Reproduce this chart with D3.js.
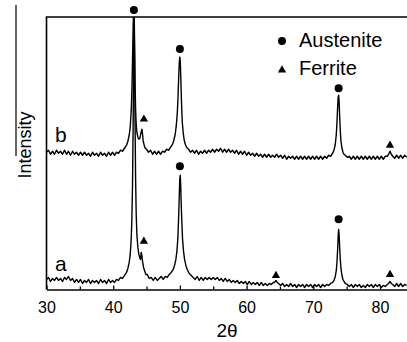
<!DOCTYPE html>
<html><head><meta charset="utf-8">
<script src="https://cdn.jsdelivr.net/npm/d3@7"></script>
<style>body{margin:0;background:#fff}svg{display:block}text{font-family:Arial,"Liberation Sans",sans-serif;fill:#000}</style>
</head><body><svg id="c" width="407" height="342"></svg>
<script>
// 2θ (deg), intensity (a.u.) for sample a
const seriesA = [
[30.0,10],[30.3,12],[30.6,8],[30.9,11],[31.2,9],[31.5,12],[31.8,9],[32.1,11],[32.4,8],[32.7,12],[33.0,10],[33.3,13],[33.6,9],[33.9,11],[34.2,7],[34.5,10],[34.8,7],[35.1,10],[35.4,6],[35.7,9],[36.0,7],[36.3,10],[36.6,6],[36.9,9],[37.2,7],[37.5,9],[37.8,6],[38.1,10],[38.4,7],[38.7,9],[39.0,6],[39.3,10],[39.6,7],[39.9,9],[40.2,7],[40.5,10],[40.8,9],[41.1,12],[41.4,11],[41.7,14],[42.0,17],[42.2,21],[42.4,27],[42.55,35],[42.7,50],[42.8,70],[42.9,105],[43.0,170],[43.08,250],[43.13,272],[43.2,235],[43.28,165],[43.36,110],[43.45,75],[43.55,55],[43.7,42],[43.85,35],[44.0,31],[44.1,30],[44.2,37],[44.3,34],[44.4,28],[44.55,22],[44.7,19],[44.9,15],[45.1,15],[45.4,11],[45.7,12],[46.0,9],[46.3,12],[46.6,9],[46.9,11],[47.2,13],[47.5,10],[47.8,13],[48.1,12],[48.4,15],[48.7,17],[49.0,20],[49.2,24],[49.4,30],[49.55,38],[49.7,52],[49.8,70],[49.9,92],[49.98,110],[50.05,114],[50.12,104],[50.2,85],[50.3,66],[50.4,50],[50.55,38],[50.7,30],[50.9,24],[51.1,20],[51.4,16],[51.7,14],[52.0,12],[52.3,10],[52.6,13],[52.9,9],[53.2,12],[53.5,9],[53.8,12],[54.1,10],[54.4,12],[54.7,10],[55.0,12],[55.3,10],[55.6,12],[55.9,9],[56.2,11],[56.5,8],[56.8,11],[57.1,8],[57.4,10],[57.7,7],[58.0,9],[58.3,7],[58.6,9],[58.9,6],[59.2,8],[59.5,6],[59.8,8],[60.1,5],[60.4,8],[60.7,5],[61.0,7],[61.3,5],[61.6,7],[61.9,4],[62.2,7],[62.5,4],[62.8,6],[63.1,4],[63.4,6],[63.7,5],[64.0,7],[64.2,7],[64.4,9],[64.6,7],[64.8,6],[65.1,4],[65.4,6],[65.7,3],[66.0,5],[66.3,3],[66.6,6],[66.9,3],[67.2,5],[67.5,2],[67.8,5],[68.1,3],[68.4,5],[68.7,2],[69.0,5],[69.3,3],[69.6,5],[69.9,2],[70.2,5],[70.5,3],[70.8,5],[71.1,2],[71.4,5],[71.7,3],[72.0,5],[72.3,4],[72.6,6],[72.9,7],[73.1,9],[73.3,13],[73.45,19],[73.55,27],[73.65,40],[73.73,53],[73.8,60],[73.87,55],[73.95,43],[74.05,30],[74.15,21],[74.3,14],[74.45,10],[74.6,8],[74.8,6],[75.1,5],[75.4,3],[75.7,5],[76.0,2],[76.3,5],[76.6,3],[76.9,5],[77.2,2],[77.5,4],[77.8,2],[78.1,5],[78.4,3],[78.7,5],[79.0,2],[79.3,5],[79.6,3],[79.9,5],[80.2,2],[80.5,4],[80.8,3],[81.1,5],[81.3,6],[81.5,8],[81.7,6],[81.9,5],[82.2,3],[82.5,6],[82.8,3],[83.1,6],[83.4,3],[83.7,5],[84.0,4]
];
// 2θ (deg), intensity (a.u.) for sample b (offset upward)
const seriesB = [
[30.0,137],[30.3,139],[30.6,135],[30.9,138],[31.2,135],[31.5,139],[31.8,136],[32.1,138],[32.4,135],[32.7,139],[33.0,135],[33.3,138],[33.6,134],[33.9,138],[34.2,135],[34.5,137],[34.8,134],[35.1,137],[35.4,134],[35.7,137],[36.0,134],[36.3,136],[36.6,133],[36.9,137],[37.2,134],[37.5,136],[37.8,133],[38.1,137],[38.4,134],[38.7,136],[39.0,133],[39.3,137],[39.6,134],[39.9,137],[40.2,134],[40.5,137],[40.8,136],[41.1,139],[41.4,138],[41.7,141],[42.0,144],[42.2,148],[42.4,154],[42.55,162],[42.7,178],[42.8,198],[42.9,230],[43.0,265],[43.06,280],[43.13,285],[43.2,250],[43.28,205],[43.36,180],[43.45,165],[43.55,157],[43.7,152],[43.85,150],[44.0,151],[44.15,156],[44.3,160],[44.4,155],[44.5,148],[44.65,144],[44.8,141],[45.0,140],[45.3,137],[45.6,139],[45.9,135],[46.2,138],[46.5,135],[46.8,138],[47.1,135],[47.4,138],[47.7,137],[48.0,140],[48.3,139],[48.6,142],[48.9,145],[49.1,149],[49.3,155],[49.45,163],[49.6,175],[49.72,192],[49.82,212],[49.92,228],[50.0,232],[50.07,226],[50.15,208],[50.25,185],[50.35,168],[50.5,156],[50.65,149],[50.8,145],[51.0,142],[51.3,140],[51.6,137],[51.9,139],[52.2,136],[52.5,139],[52.8,135],[53.1,138],[53.4,136],[53.7,139],[54.0,136],[54.3,139],[54.6,137],[54.9,140],[55.2,137],[55.5,140],[55.8,138],[56.1,141],[56.4,137],[56.7,140],[57.0,137],[57.3,140],[57.6,137],[57.9,139],[58.2,136],[58.5,139],[58.8,135],[59.1,138],[59.4,135],[59.7,138],[60.0,134],[60.3,137],[60.6,134],[60.9,136],[61.2,133],[61.5,136],[61.8,133],[62.1,135],[62.4,132],[62.7,135],[63.0,132],[63.3,135],[63.6,132],[63.9,134],[64.2,132],[64.5,135],[64.8,132],[65.1,134],[65.4,131],[65.7,134],[66.0,130],[66.3,133],[66.6,131],[66.9,133],[67.2,130],[67.5,133],[67.8,130],[68.1,133],[68.4,130],[68.7,133],[69.0,130],[69.3,133],[69.6,130],[69.9,133],[70.2,130],[70.5,133],[70.8,130],[71.1,133],[71.4,130],[71.7,133],[72.0,131],[72.3,134],[72.6,133],[72.9,136],[73.1,139],[73.3,145],[73.45,155],[73.55,167],[73.65,182],[73.73,192],[73.8,194],[73.87,188],[73.95,174],[74.05,158],[74.15,148],[74.3,141],[74.45,137],[74.6,135],[74.8,134],[75.1,132],[75.4,133],[75.7,130],[76.0,133],[76.3,130],[76.6,133],[76.9,130],[77.2,133],[77.5,130],[77.8,133],[78.1,130],[78.4,133],[78.7,130],[79.0,133],[79.3,130],[79.6,133],[79.9,130],[80.2,133],[80.5,130],[80.8,133],[81.1,133],[81.3,135],[81.5,138],[81.7,135],[81.9,133],[82.2,131],[82.5,134],[82.8,131],[83.1,134],[83.4,131],[83.7,134],[84.0,132]
];
// phase markers (2θ, intensity position)
const austeniteX = [43.1, 50.0, 73.8, 50.0, 73.8];
const austeniteY = [279, 240, 201, 123, 70];
const ferriteX = [44.6, 81.5, 44.6, 64.4, 81.5];
const ferriteY = [170, 144, 48, 14, 15];
const xTicks = [30, 40, 50, 60, 70, 80];
const xMinorTicks = [35, 45, 55, 65, 75];
const sampleLabels = ["a", "b"];
const sampleLabelY = [18, 147];
const legendLabels = ["Austenite", "Ferrite"];

const svg = d3.select("#c");
const L = 46.5, R = 407, T = 17, B = 289.5;
const x = d3.scaleLinear().domain([30, 84.05]).range([L, R]);
const y = d3.scaleLinear().domain([0, 272]).range([B, T]);

svg.append("defs").append("clipPath").attr("id","clip")
  .append("rect").attr("x", L).attr("y", T).attr("width", R - L).attr("height", B - T);

// stray vertical line at far left (from source figure)
svg.append("line").attr("x1",16).attr("x2",16).attr("y1",5).attr("y2",156)
  .attr("stroke","#000").attr("stroke-width",1.2);

const line = d3.line().x(d => x(d[0])).y(d => y(d[1]));
const g = svg.append("g").attr("clip-path","url(#clip)");
[seriesA, seriesB].forEach(s => {
  g.append("path").datum(s).attr("d", line).attr("fill","none")
   .attr("stroke","#000").attr("stroke-width",1.4).attr("stroke-linejoin","round");
});

// frame: top and left
svg.append("path").attr("d", `M${L},${B}V${T}H${R}`).attr("fill","none")
  .attr("stroke","#000").attr("stroke-width",1.6);

// x axis
const xAxis = d3.axisBottom(x).tickValues(xTicks).tickSizeInner(-4).tickSizeOuter(0).tickPadding(12).tickFormat(d3.format("d"));
const ax = svg.append("g").attr("transform",`translate(0,${B})`).call(xAxis);
ax.select(".domain").attr("stroke","#000").attr("stroke-width",1.6);
ax.selectAll(".tick line").attr("stroke","#000").attr("stroke-width",1.3);
ax.selectAll(".tick text").attr("font-size",16).attr("font-family","Arial, 'Liberation Sans', sans-serif").attr("fill","#000");
const minor = d3.axisBottom(x).tickValues(xMinorTicks).tickSizeInner(-3).tickSizeOuter(0).tickFormat("");
const mx = svg.append("g").attr("transform",`translate(0,${B})`).call(minor);
mx.select(".domain").remove();
mx.selectAll(".tick line").attr("stroke","#000").attr("stroke-width",1.3);

// axis titles
svg.append("text").attr("x", 227).attr("y", 337).attr("text-anchor","middle").attr("font-size",19).text("2θ");
svg.append("text").attr("transform","translate(31,145) rotate(-90)").attr("text-anchor","middle").attr("font-size",18).text("Intensity");

// sample labels
sampleLabels.forEach((t,i) => {
  svg.append("text").attr("x", 55).attr("y", y(sampleLabelY[i])).attr("font-size",21).text(t);
});

// markers
const tri = d3.symbol().type(d3.symbolTriangle).size(30);
austeniteX.forEach((v,i) => {
  svg.append("circle").attr("cx", x(v)).attr("cy", y(austeniteY[i])).attr("r",4).attr("fill","#000");
});
ferriteX.forEach((v,i) => {
  svg.append("path").attr("d", tri).attr("transform",`translate(${x(v)},${y(ferriteY[i])})`).attr("fill","#000");
});

// legend
svg.append("circle").attr("cx",282).attr("cy",41).attr("r",4).attr("fill","#000");
svg.append("path").attr("d", tri).attr("transform","translate(282,70)").attr("fill","#000");
svg.append("text").attr("x",299).attr("y",47).attr("font-size",20).text(legendLabels[0]);
svg.append("text").attr("x",299).attr("y",75).attr("font-size",20).text(legendLabels[1]);
</script></body></html>
